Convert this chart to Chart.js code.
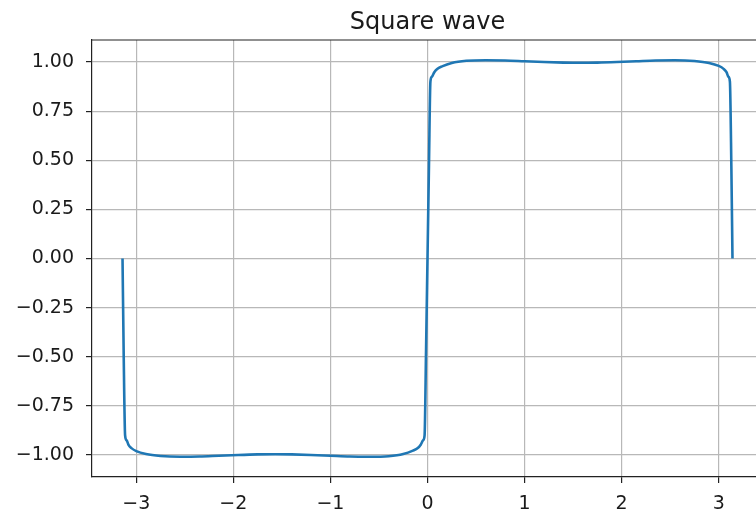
<!DOCTYPE html>
<html>
<head>
<meta charset="utf-8">
<script src="https://cdn.jsdelivr.net/npm/chart.js@4/dist/chart.umd.min.js"></script>
<style>
  html, body { margin: 0; padding: 0; background: #fff; overflow: hidden; }
  #wrap { position: relative; width: 800px; height: 511px; }
</style>
</head>
<body>
<div id="wrap"><canvas id="c"></canvas></div>
<script>
const chartTitle = "Square wave";
const xValues = [
  -3.1416, -3.13, -3.115, -3.1, -3.08, -3.05, -3.0, -2.9, -2.75, -2.55, -2.35, -2.15, -1.95, -1.75,
  -1.5708, -1.4, -1.2, -1.0, -0.8, -0.6, -0.4, -0.25, -0.15, -0.1, -0.07, -0.045, -0.03, -0.015,
  0,
  0.015, 0.03, 0.045, 0.07, 0.1, 0.15, 0.25, 0.4, 0.6, 0.8, 1.0, 1.2, 1.4, 1.5708,
  1.75, 1.95, 2.15, 2.35, 2.55, 2.75, 2.9, 3.0, 3.05, 3.08, 3.1, 3.115, 3.13, 3.1416
];
const yValues = [
  0, -0.47, -0.9, -0.925, -0.948, -0.965, -0.98, -0.995, -1.005, -1.009, -1.008, -1.004, -1.0, -0.997,
  -0.996, -0.997, -1.0, -1.004, -1.008, -1.009, -1.006, -0.995, -0.978, -0.965, -0.948, -0.925, -0.9, -0.47,
  0,
  0.47, 0.9, 0.925, 0.948, 0.965, 0.978, 0.995, 1.006, 1.009, 1.008, 1.004, 1.0, 0.997, 0.996,
  0.997, 1.0, 1.004, 1.008, 1.009, 1.005, 0.995, 0.98, 0.965, 0.948, 0.925, 0.9, 0.47, 0
];
const xTicks = [-3, -2, -1, 0, 1, 2, 3];
const yTicks = [-1.0, -0.75, -0.5, -0.25, 0, 0.25, 0.5, 0.75, 1.0];

const FONT = "'DejaVu Sans', sans-serif";
const fmtMinus = s => s.replace('-', '\u2212');

const framePlugin = {
  id: 'frame',
  afterDraw(chart) {
    const { ctx, chartArea: a } = chart;
    ctx.save();
    ctx.strokeStyle = '#222';
    ctx.lineWidth = 1.2;
    ctx.beginPath();
    ctx.moveTo(a.left, a.top);
    ctx.lineTo(a.right, a.top);
    ctx.lineTo(a.right, a.bottom);
    ctx.stroke();
    ctx.fillStyle = '#1a1a1a';
    ctx.font = "24px " + FONT;
    ctx.textAlign = 'center';
    ctx.textBaseline = 'alphabetic';
    ctx.fillText(chartTitle, (a.left + a.right) / 2, 29);
    ctx.restore();
  }
};

new Chart(document.getElementById('c'), {
  type: 'line',
  data: {
    datasets: [{
      data: xValues.map((x, i) => ({ x: x, y: yValues[i] })),
      borderColor: '#1f77b4',
      borderWidth: 2.6,
      pointRadius: 0,
      fill: false,
      cubicInterpolationMode: 'monotone'
    }]
  },
  options: {
    responsive: true,
    maintainAspectRatio: false,
    animation: false,
    layout: { padding: { top: 40, right: 37, bottom: 0, left: 0 } },
    plugins: { legend: { display: false }, tooltip: { enabled: false }, title: { display: false } },
    scales: {
      x: {
        type: 'linear',
        min: -3.456, max: 3.456,
        afterBuildTicks: s => { s.ticks = xTicks.map(v => ({ value: v })); },
        afterFit: s => { s.height = 34; },
        ticks: {
          font: { family: FONT, size: 19 }, color: '#1a1a1a', padding: 10,
          maxRotation: 0, autoSkip: false,
          callback: v => fmtMinus(String(v))
        },
        grid: { color: '#b8b8b8', lineWidth: 1.2, tickLength: 6, tickColor: '#222' },
        border: { color: '#222', width: 1.2 }
      },
      y: {
        type: 'linear',
        min: -1.112, max: 1.112,
        afterBuildTicks: s => { s.ticks = yTicks.map(v => ({ value: v })); },
        afterFit: s => { s.width = 92; },
        ticks: {
          font: { family: FONT, size: 19 }, color: '#1a1a1a', padding: 12,
          autoSkip: false,
          callback: v => fmtMinus(Number(v).toFixed(2))
        },
        grid: { color: '#b8b8b8', lineWidth: 1.2, tickLength: 6, tickColor: '#222' },
        border: { color: '#222', width: 1.2 }
      }
    }
  },
  plugins: [framePlugin]
});
</script>
</body>
</html>
